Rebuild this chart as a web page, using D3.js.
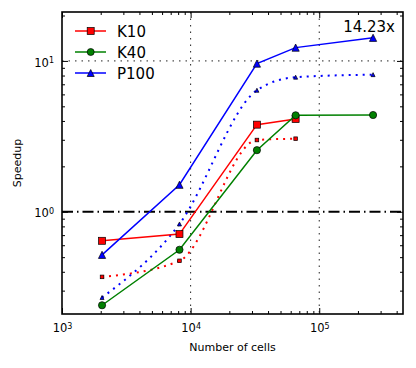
<!DOCTYPE html>
<html>
<head>
<meta charset="utf-8">
<script src="https://cdn.jsdelivr.net/npm/d3@7"></script>
<style>
  body { margin: 0; background: #fff; }
  text { font-family: 'DejaVu Sans', sans-serif; fill: #000; }
</style>
</head>
<body>
<div id="chart"></div>
<script>
// values
const cells = [2048, 8192, 32768, 65536, 262144];
const k10 = [0.642, 0.711, 3.78, 4.12];
const k10Dot = [0.37, 0.473, 2.99, 3.05];
const k40 = [0.24, 0.56, 2.56, 4.36, 4.38];
const p100 = [0.518, 1.51, 9.6, 12.25, 14.23];
const p100Dot = [0.27, 0.83, 6.39, 7.8, 8.11];
const seriesNames = ['K10', 'K40', 'P100'];
const xMajor = [1e3, 1e4, 1e5];
const yMajor = [1, 10];
const bestLabel = '14.23x';

const W = 416, H = 368;
const margin = {top: 12, right: 13, bottom: 54, left: 62};

const svg = d3.select('#chart').append('svg').attr('width', W).attr('height', H);

const x = d3.scaleLog().domain([1000, 448000]).range([margin.left, W - margin.right]);
const y = d3.scaleLog().domain([0.21, 21.1]).range([H - margin.bottom, margin.top]);

const x0 = x.range()[0], x1 = x.range()[1];
const y0 = y.range()[0], y1 = y.range()[1];

svg.append('clipPath').attr('id', 'plotclip')
  .append('rect').attr('x', x0).attr('y', y1).attr('width', x1 - x0).attr('height', y0 - y1);

// grid (dotted) at major decades, y=1 gets the dash-dot line instead
const grid = svg.append('g');
xMajor.filter(d => d > 1000).forEach(d => {
  grid.append('line').attr('x1', x(d)).attr('x2', x(d)).attr('y1', y1).attr('y2', y0)
    .attr('stroke', '#222').attr('stroke-width', 1).attr('stroke-dasharray', '1.5,5');
});
grid.append('line').attr('x1', x0).attr('x2', x1).attr('y1', y(10)).attr('y2', y(10))
  .attr('stroke', '#222').attr('stroke-width', 1).attr('stroke-dasharray', '1.5,5');

svg.append('line').attr('x1', x0).attr('x2', x1).attr('y1', y(1)).attr('y2', y(1))
  .attr('stroke', '#000').attr('stroke-width', 2).attr('stroke-dasharray', '11,4,1.5,4');

// marker shapes
function marker(g, shape, cx, cy, s, fill) {
  if (shape === 'square') {
    g.append('rect').attr('x', cx - s).attr('y', cy - s).attr('width', 2 * s).attr('height', 2 * s)
      .attr('fill', fill).attr('stroke', '#000').attr('stroke-width', 0.7);
  } else if (shape === 'circle') {
    g.append('circle').attr('cx', cx).attr('cy', cy).attr('r', s)
      .attr('fill', fill).attr('stroke', '#000').attr('stroke-width', 0.7);
  } else {
    g.append('path').attr('d', `M${cx},${cy - s}L${cx - s},${cy + s}L${cx + s},${cy + s}Z`)
      .attr('fill', fill).attr('stroke', '#000').attr('stroke-width', 0.7);
  }
}

function drawSeries(vals, color, shape, size, dotted) {
  const pts = vals.map((v, i) => [cells[i], v]);
  const line = d3.line().x(d => x(d[0])).y(d => y(d[1]))
    .curve(dotted ? d3.curveMonotoneX : d3.curveLinear);
  const g = svg.append('g').attr('clip-path', 'url(#plotclip)');
  g.append('path').attr('d', line(pts)).attr('fill', 'none').attr('stroke', color)
    .attr('stroke-width', dotted ? 2 : 1.5)
    .attr('stroke-dasharray', dotted ? '2,5' : null);
  pts.forEach(d => marker(g, shape, x(d[0]), y(d[1]), size, color));
}

drawSeries(k10Dot, '#ff0000', 'square', 1.8, true);
drawSeries(p100Dot, '#0000ff', 'triangle', 2, true);
drawSeries(k10, '#ff0000', 'square', 3.5, false);
drawSeries(k40, '#008000', 'circle', 3.6, false);
drawSeries(p100, '#0000ff', 'triangle', 3.6, false);

// axes: ticks point inward on all four sides
function styleAxis(g) {
  g.select('.domain').remove();
  g.selectAll('line').attr('stroke', '#000').attr('stroke-width', 1);
}
const minorX = x.ticks().filter(d => xMajor.indexOf(d) < 0);
const minorY = y.ticks().filter(d => yMajor.indexOf(d) < 0);

svg.append('g').attr('transform', `translate(0,${y0})`)
  .call(d3.axisBottom(x).tickValues(minorX).tickSize(-3).tickFormat('')).call(styleAxis);
svg.append('g').attr('transform', `translate(0,${y1})`)
  .call(d3.axisTop(x).tickValues(minorX).tickSize(-3).tickFormat('')).call(styleAxis);
svg.append('g').attr('transform', `translate(${x0},0)`)
  .call(d3.axisLeft(y).tickValues(minorY).tickSize(-3).tickFormat('')).call(styleAxis);
svg.append('g').attr('transform', `translate(${x1},0)`)
  .call(d3.axisRight(y).tickValues(minorY).tickSize(-3).tickFormat('')).call(styleAxis);

svg.append('g').attr('transform', `translate(0,${y1})`)
  .call(d3.axisTop(x).tickValues(xMajor).tickSize(-6).tickFormat('')).call(styleAxis);
svg.append('g').attr('transform', `translate(${x1},0)`)
  .call(d3.axisRight(y).tickValues(yMajor).tickSize(-6).tickFormat('')).call(styleAxis);

const xAxis = svg.append('g').attr('transform', `translate(0,${y0})`)
  .call(d3.axisBottom(x).tickValues(xMajor).tickSize(-6).tickPadding(10)).call(styleAxis);
const yAxis = svg.append('g').attr('transform', `translate(${x0},0)`)
  .call(d3.axisLeft(y).tickValues(yMajor).tickSize(-6).tickPadding(8)).call(styleAxis);

// 10 with superscript exponent
function powLabels(g) {
  g.selectAll('text').each(function(d) {
    const t = d3.select(this);
    t.text(null).style('font-size', '11.5px').style('font-family', "'DejaVu Sans', sans-serif").attr('fill', '#000');
    t.append('tspan').text('10');
    t.append('tspan').text(Math.round(Math.log10(d))).attr('dy', '-0.45em').style('font-size', '8px');
  });
}
xAxis.call(powLabels);
yAxis.call(powLabels);
xAxis.selectAll('text').attr('dy', '0.71em');
yAxis.selectAll('text').attr('dy', '0.45em');

// frame
svg.append('rect').attr('x', x0).attr('y', y1).attr('width', x1 - x0).attr('height', y0 - y1)
  .attr('fill', 'none').attr('stroke', '#000').attr('stroke-width', 1.6);

// axis titles
svg.append('text').text('Number of cells').attr('x', (x0 + x1) / 2).attr('y', 351)
  .attr('text-anchor', 'middle').style('font-size', '11px');
svg.append('text').text('Speedup').attr('transform', `translate(21,${(y0 + y1) / 2}) rotate(-90)`)
  .attr('text-anchor', 'middle').style('font-size', '11px');

// best speedup note
svg.append('text').text(bestLabel).attr('x', 395).attr('y', 32)
  .attr('text-anchor', 'end').style('font-size', '15px');

// legend
const legendStyle = [
  {color: '#ff0000', shape: 'square'},
  {color: '#008000', shape: 'circle'},
  {color: '#0000ff', shape: 'triangle'}
];
seriesNames.forEach((name, i) => {
  const ly = 31 + i * 21;
  const lg = svg.append('g');
  lg.append('line').attr('x1', 75).attr('x2', 106).attr('y1', ly).attr('y2', ly)
    .attr('stroke', legendStyle[i].color).attr('stroke-width', 1.5);
  marker(lg, legendStyle[i].shape, 90.7, ly, 3.5, legendStyle[i].color);
  lg.append('text').text(name).attr('x', 117).attr('y', ly + 6).style('font-size', '15px');
});
</script>
</body>
</html>
